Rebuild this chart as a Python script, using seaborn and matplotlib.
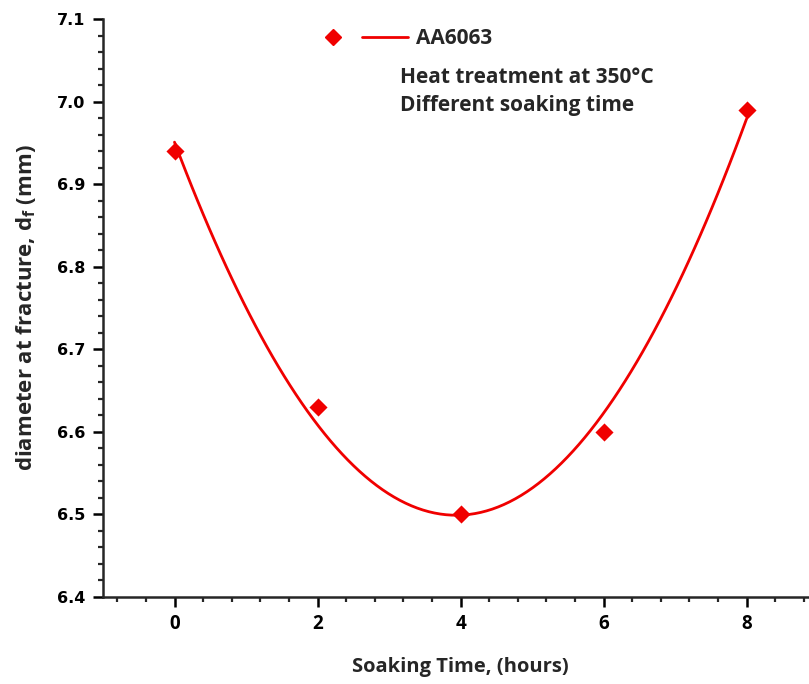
#!/usr/bin/env python3
"""Diameter at fracture of AA6063 versus soaking time at 350 C."""

import matplotlib as mpl
import matplotlib.pyplot as plt
import pandas as pd
import seaborn as sns
from matplotlib.legend_handler import HandlerTuple
from matplotlib.lines import Line2D
from matplotlib.ticker import FormatStrFormatter, MultipleLocator

mpl.use('Agg')

# Values
SOAK_HOURS = [0, 2, 4, 6, 8]
DIAMETER_MM = [6.94, 6.63, 6.50, 6.60, 6.99]
SERIES_LABEL = "AA6063"
NOTES = ["Heat treatment at 350\u00b0C", "Different soaking time"]

RED = "#f00000"
W, H = 809, 684

sns.set_style("ticks")
plt.rcParams['font.family'] = ['Open Sans', 'DejaVu Sans']
plt.rcParams['axes.linewidth'] = 1.8


def main():
    df = pd.DataFrame({"hours": SOAK_HOURS, "diameter": DIAMETER_MM})

    fig = plt.figure(figsize=(W / 100, H / 100), dpi=100)
    # x from -1 to 9 at ~71.5 px per hour; right end runs off the canvas
    ax = fig.add_axes([103 / W, (H - 597) / H, 715 / W, 578 / H])

    # Quadratic fit through the measured points, as in the source
    sns.regplot(data=df, x="hours", y="diameter", order=2, ci=None, ax=ax,
                marker="D", color=RED,
                scatter_kws={"s": 85, "zorder": 3, "linewidths": 0,
                             "alpha": 1},
                line_kws={"lw": 2.0})

    # Axes
    ax.set_xlim(-1, 9)
    ax.set_ylim(6.4, 7.1)
    ax.xaxis.set_major_locator(MultipleLocator(2))
    ax.xaxis.set_minor_locator(MultipleLocator(0.4))
    ax.yaxis.set_major_locator(MultipleLocator(0.1))
    ax.yaxis.set_minor_locator(MultipleLocator(0.02))
    ax.yaxis.set_major_formatter(FormatStrFormatter("%.1f"))
    ax.tick_params(axis="both", which="major", length=7.5, width=1.8,
                   direction="out", colors="black", pad=5)
    ax.tick_params(axis="both", which="minor", length=3.8, width=1.6,
                   direction="out")
    for lab in ax.get_yticklabels():
        lab.set_family("DejaVu Sans")
        lab.set_fontweight("bold")
        lab.set_fontsize(11.5)
    for lab in ax.get_xticklabels():
        lab.set_fontweight("bold")
        lab.set_fontsize(13.5)
    ax.spines["top"].set_visible(False)
    ax.spines["right"].set_visible(False)
    ax.set_xlabel("Soaking Time, (hours)", fontsize=14.5, fontweight="bold",
                  labelpad=16)
    ax.set_ylabel(r"diameter at fracture, d$_\mathregular{f}$ (mm)",
                  fontsize=16, fontweight="bold", labelpad=14)

    # Legend: marker and fit line side by side
    marker_h = Line2D([], [], ls="none", marker="D", ms=8.5, color=RED)
    line_h = Line2D([], [], color=RED, lw=2.0)
    ax.legend(handles=[(marker_h, line_h)], labels=[SERIES_LABEL],
              handler_map={tuple: HandlerTuple(ndivide=None, pad=0.3)},
              handlelength=4.68, handletextpad=0.38, frameon=False,
              loc="center left", borderaxespad=0, borderpad=0.4,
              bbox_to_anchor=(302 / W, 1 - 39 / H),
              bbox_transform=fig.transFigure,
              prop={"weight": "bold", "size": 15})
    for note, base in zip(NOTES, [83, 111]):
        fig.text(400 / W, 1 - base / H, note, fontsize=15,
                 fontweight="bold", va="baseline", ha="left")

    fig.savefig("out.png", dpi=100)
    plt.close(fig)


if __name__ == '__main__':
    main()
